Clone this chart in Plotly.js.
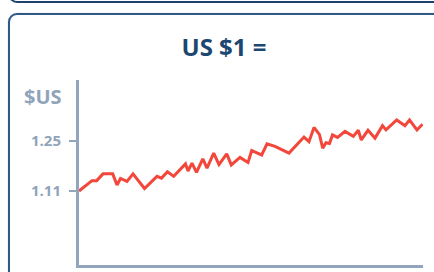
<!DOCTYPE html>
<html>
<head>
<meta charset="utf-8">
<script src="https://cdn.plot.ly/plotly-3.0.1.min.js"></script>
<style>
  html, body { margin:0; padding:0; width:434px; height:272px; overflow:hidden; background:#fff; }
  #topcard { position:absolute; left:8px; top:-27px; width:520px; height:30px; border:2px solid #1d436c; border-radius:9px; box-sizing:border-box; }
  #card { position:absolute; left:8px; top:13px; width:520px; height:400px; border:2px solid #2f5a86; border-radius:9px; box-sizing:border-box; box-shadow:0 0 1px #7f9bb8; }
  #chart { position:absolute; left:0; top:0; width:434px; height:272px; }
</style>
</head>
<body>
<div id="topcard"></div>
<div id="card"></div>
<div id="chart"></div>
<script>
// Time position (arbitrary units along the x axis) and exchange rate values
const timePos = [0, 13, 17.7, 24, 33.7, 38, 41.5, 48, 54, 65.5, 78, 82.5, 88.5, 94.7, 106.5, 109, 113, 117.5, 123.8, 128, 134.7, 140, 147.7, 152.3, 161, 169, 172.7, 182.7, 188, 196, 210, 225, 230, 235, 240.5, 243.7, 247, 250.5, 253.5, 258.5, 266, 274.3, 279.3, 282.3, 289, 296, 303.5, 307, 317.7, 326, 330.5, 338, 343.5];
const usdRate = [1.110, 1.139, 1.139, 1.158, 1.158, 1.127, 1.145, 1.137, 1.158, 1.117, 1.151, 1.146, 1.164, 1.151, 1.186, 1.166, 1.188, 1.162, 1.200, 1.174, 1.216, 1.184, 1.214, 1.183, 1.204, 1.190, 1.223, 1.211, 1.242, 1.235, 1.216, 1.261, 1.248, 1.288, 1.268, 1.230, 1.245, 1.243, 1.267, 1.260, 1.277, 1.263, 1.280, 1.253, 1.280, 1.258, 1.293, 1.281, 1.309, 1.293, 1.309, 1.281, 1.297];
const tickVals = [1.11, 1.25];
const tickText = ["1.11", "1.25"];
const titleText = "US $1 =";
const unitText = "$US";

const axisColor = "#91a6bc";
const trace = {
  x: timePos, y: usdRate, type: "scatter", mode: "lines",
  line: { color: "#f2473a", width: 3 }, hoverinfo: "skip"
};
const layout = {
  width: 434, height: 272,
  margin: { l: 79, r: 11, t: 80, b: 7, pad: 0 },
  paper_bgcolor: "rgba(0,0,0,0)", plot_bgcolor: "rgba(0,0,0,0)",
  showlegend: false,
  title: { text: titleText, x: 224/434, xanchor: "center", y: 1 - 48/272, yanchor: "middle",
           font: { family: "Open Sans, DejaVu Sans, sans-serif", size: 24, color: "#1c4770", weight: "bold" } },
  xaxis: { range: [0, 344], showgrid: false, zeroline: false, showticklabels: false, ticks: "",
           showline: true, linecolor: axisColor, linewidth: 3, fixedrange: true },
  yaxis: { range: [0.9028, 1.4208], showgrid: false, zeroline: false,
           tickvals: tickVals, ticktext: tickText, ticks: "outside", ticklen: 7, tickwidth: 2, tickcolor: axisColor,
           ticklabelstandoff: 5,
           tickfont: { family: "Open Sans, DejaVu Sans, sans-serif", size: 15, color: "#8fa4ba", weight: "bold" },
           showline: true, linecolor: axisColor, linewidth: 3, fixedrange: true },
  annotations: [{
    text: unitText, xref: "paper", yref: "paper", x: -57/344, xanchor: "left",
    y: (265 - 96)/185, yanchor: "middle", showarrow: false,
    font: { family: "Open Sans, DejaVu Sans, sans-serif", size: 20, color: "#8fa4ba", weight: "bold" }
  }]
};
Plotly.newPlot("chart", [trace], layout, { displayModeBar: false, staticPlot: true });
</script>
</body>
</html>
